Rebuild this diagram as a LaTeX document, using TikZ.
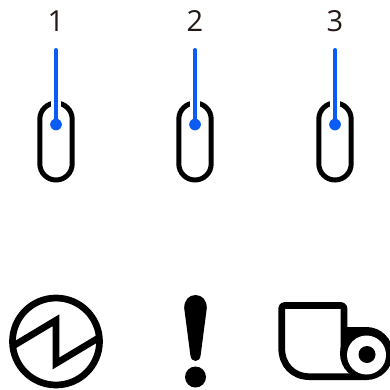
\documentclass[tikz,border=0pt]{standalone}
\usepackage{fontspec}
\setmainfont{Open Sans}
\definecolor{pinblue}{HTML}{0A5CF5}
\definecolor{labelink}{HTML}{231815}
\tikzset{
  x=1pt,y=-1pt,
  icon/.style={draw=black,line width=5pt,rounded corners=16.2pt},
  glyph/.style={draw=black,line width=6.7pt,miter limit=10},
  pin/.style={draw=pinblue,line width=4pt,line cap=round},
  halo/.style={draw=white,line width=10pt},
  label/.style={text=labelink,font=\fontsize{29}{33}\selectfont,inner sep=0pt,anchor=base},
  pindot/.style={circle,fill=pinblue,minimum size=11.7pt,inner sep=0pt},
}
\begin{document}
\begin{tikzpicture}
\useasboundingbox (0,0) rectangle (390,389);
\clip (0,0) rectangle (390,389);
\foreach \n/\cx in {1/56,2/195,3/335}{
  \draw[icon] (\cx-16.2,103) rectangle (\cx+16.2,180);
  \draw[halo] (\cx,90) -- (\cx,112);
  \coordinate (top\n) at (\cx,50);
  \node[pindot] (dot\n) at (\cx,124.5) {};
  \draw[pin] (top\n) -- (dot\n.center);
  \node[label] (num\n) at (\cx,31.5) {\n};
}
% circle with zigzag
\draw[glyph] (56,341.5) circle[radius=43.5];
\draw[glyph] (14,345.4) -- (56,320.2) -- (56,363.4) -- (98,338.2);
% exclamation mark
\fill[black] (184.2,308) .. controls (184.2,300) and (189,295) .. (195.5,295)
  .. controls (202,295) and (206.8,300) .. (206.8,308)
  -- (200.8,354) .. controls (200.4,359) and (198.5,361) .. (195.5,361)
  .. controls (192.5,361) and (190.6,359) .. (190.2,354) -- cycle;
\fill[black] (195.5,377) circle[radius=10.5];
% paper roll
\fill[black] (366.5,353.5) circle[radius=26.5];
\draw[glyph,line join=round] (367,376.7) -- (310,376.7) .. controls (293,376.7) and (281.7,365) .. (281.7,348)
  -- (281.7,308.5) .. controls (281.7,306.5) and (282.7,305.5) .. (284.7,305.5)
  -- (341,305.5) .. controls (343,305.5) and (344,306.5) .. (344,308.5) -- (344,355);
\fill[black] (344,327) rectangle (366.5,340);
\fill[white] (366.5,355) circle[radius=19.5];
\fill[black] (367,354.5) circle[radius=8.5];
\end{tikzpicture}
\end{document}
